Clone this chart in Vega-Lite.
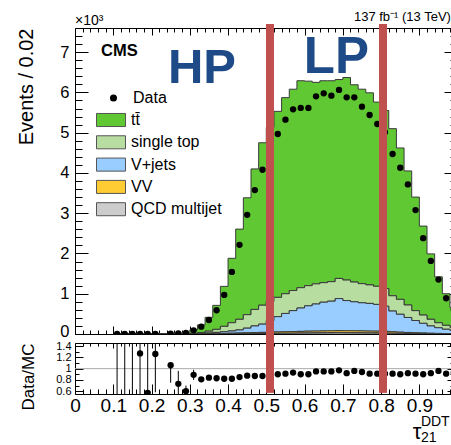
{
"$schema": "https://vega.github.io/schema/vega-lite/v6.json",
"padding": {"left": 15, "top": 10, "right": 0, "bottom": 0},
"background": "white",
"bounds": "flush",
"spacing": 9,
"config": {
  "font": "Liberation Sans",
  "view": {"stroke": null},
  "axis": {"grid": false, "domainColor": "black", "tickColor": "black", "labelColor": "black", "titleColor": "black", "labelFont": "Liberation Sans", "titleFont": "Liberation Sans", "titleFontWeight": "normal", "labelFlush": false, "labelOverlap": false, "labelBound": false, "tickWidth": 1, "domainWidth": 1},
  "legend": {"labelFont": "Liberation Sans", "labelColor": "black"}
},
"datasets": {
  "procs": [
    {"key": "tt", "label": "tt\u0304", "idx": 4},
    {"key": "st", "label": "single top", "idx": 3},
    {"key": "vj", "label": "V+jets", "idx": 2},
    {"key": "vv", "label": "VV", "idx": 1},
    {"key": "qcd", "label": "QCD multijet", "idx": 0}
  ],
  "bins": [
    {"xc":0.11,"tt":2,"st":0,"vj":0,"vv":0,"qcd":0,"data":4,"ratio":2.0,"rlo":0,"rhi":3},
    {"xc":0.13,"tt":3,"st":0,"vj":0,"vv":0,"qcd":0,"data":2,"ratio":0.3,"rlo":0,"rhi":3},
    {"xc":0.15,"tt":3,"st":0,"vj":0,"vv":0,"qcd":0,"data":3,"ratio":2.2,"rlo":0,"rhi":3},
    {"xc":0.17,"tt":3,"st":0,"vj":0,"vv":0,"qcd":0,"data":4,"ratio":1.27,"rlo":0.3,"rhi":2.5},
    {"xc":0.19,"tt":4,"st":0,"vj":0,"vv":0,"qcd":0,"data":2,"ratio":0.57,"rlo":0,"rhi":1.6},
    {"xc":0.21,"tt":4,"st":0,"vj":0,"vv":0,"qcd":0,"data":5,"ratio":1.26,"rlo":0.58,"rhi":2.0},
    {"xc":0.23,"tt":6,"st":0,"vj":0,"vv":0,"qcd":0},
    {"xc":0.25,"tt":8,"st":1,"vj":0,"vv":0,"qcd":0,"data":10,"ratio":1.06,"rlo":0.75,"rhi":1.1},
    {"xc":0.27,"tt":18,"st":2,"vj":1,"vv":0,"qcd":0,"data":15,"ratio":0.73,"rlo":0.55,"rhi":0.96},
    {"xc":0.29,"tt":35,"st":4,"vj":1,"vv":0,"qcd":0,"data":24,"ratio":0.60,"rlo":0.5,"rhi":0.70},
    {"xc":0.31,"tt":88,"st":7,"vj":5,"vv":2,"qcd":1,"data":92,"ratio":0.89,"rlo":0.8,"rhi":0.98},
    {"xc":0.33,"tt":190,"st":20,"vj":10,"vv":3,"qcd":2,"data":182,"ratio":0.81},
    {"xc":0.35,"tt":344,"st":45,"vj":17,"vv":5,"qcd":3,"data":348,"ratio":0.84},
    {"xc":0.37,"tt":596,"st":75,"vj":28,"vv":8,"qcd":4,"data":590,"ratio":0.83},
    {"xc":0.39,"tt":993,"st":135,"vj":40,"vv":10,"qcd":5,"data":970,"ratio":0.82},
    {"xc":0.41,"tt":1600,"st":205,"vj":55,"vv":14,"qcd":6,"data":1542,"ratio":0.82},
    {"xc":0.43,"tt":2240,"st":265,"vj":75,"vv":17,"qcd":8,"data":2214,"ratio":0.85},
    {"xc":0.45,"tt":2903,"st":335,"vj":115,"vv":20,"qcd":10,"data":2960,"ratio":0.875},
    {"xc":0.47,"tt":3490,"st":410,"vj":165,"vv":23,"qcd":12,"data":3575,"ratio":0.87},
    {"xc":0.49,"tt":4035,"st":470,"vj":205,"vv":26,"qcd":14,"data":4080,"ratio":0.87},
    {"xc":0.51,"tt":4320,"st":480,"vj":285,"vv":29,"qcd":16,"data":4550,"ratio":0.88},
    {"xc":0.53,"tt":4620,"st":480,"vj":380,"vv":32,"qcd":18,"data":4967,"ratio":0.90},
    {"xc":0.55,"tt":4870,"st":490,"vj":455,"vv":35,"qcd":20,"data":5323,"ratio":0.91},
    {"xc":0.57,"tt":5000,"st":500,"vj":520,"vv":38,"qcd":22,"data":5580,"ratio":0.93},
    {"xc":0.59,"tt":5140,"st":505,"vj":580,"vv":40,"qcd":25,"data":5614,"ratio":0.90},
    {"xc":0.61,"tt":5080,"st":500,"vj":630,"vv":42,"qcd":28,"data":5614,"ratio":0.90},
    {"xc":0.63,"tt":5005,"st":500,"vj":673,"vv":42,"qcd":30,"data":5903,"ratio":0.95},
    {"xc":0.65,"tt":5015,"st":485,"vj":715,"vv":43,"qcd":32,"data":5978,"ratio":0.95},
    {"xc":0.67,"tt":4990,"st":485,"vj":737,"vv":44,"qcd":34,"data":5920,"ratio":0.95},
    {"xc":0.69,"tt":4940,"st":500,"vj":795,"vv":45,"qcd":40,"data":6062,"ratio":0.97},
    {"xc":0.71,"tt":5030,"st":510,"vj":750,"vv":45,"qcd":35,"data":5878,"ratio":0.92},
    {"xc":0.73,"tt":4900,"st":490,"vj":722,"vv":45,"qcd":33,"data":5878,"ratio":0.96},
    {"xc":0.75,"tt":4830,"st":475,"vj":700,"vv":45,"qcd":30,"data":5647,"ratio":0.94},
    {"xc":0.77,"tt":4770,"st":460,"vj":688,"vv":44,"qcd":28,"data":5440,"ratio":0.91},
    {"xc":0.79,"tt":4575,"st":450,"vj":665,"vv":44,"qcd":26,"data":5216,"ratio":0.91},
    {"xc":0.81,"tt":4420,"st":440,"vj":625,"vv":41,"qcd":24,"data":5010,"ratio":0.91},
    {"xc":0.83,"tt":4150,"st":380,"vj":515,"vv":35,"qcd":20,"data":4470,"ratio":0.91},
    {"xc":0.85,"tt":3760,"st":370,"vj":445,"vv":29,"qcd":16,"data":4129,"ratio":0.90},
    {"xc":0.87,"tt":3330,"st":310,"vj":372,"vv":25,"qcd":13,"data":3714,"ratio":0.92},
    {"xc":0.89,"tt":2820,"st":245,"vj":305,"vv":20,"qcd":10,"data":3077,"ratio":0.91},
    {"xc":0.91,"tt":2210,"st":205,"vj":241,"vv":16,"qcd":8,"data":2381,"ratio":0.90},
    {"xc":0.93,"tt":1625,"st":165,"vj":182,"vv":12,"qcd":6,"data":1816,"ratio":0.92},
    {"xc":0.95,"tt":1140,"st":125,"vj":141,"vv":9,"qcd":5,"data":1351,"ratio":0.96},
    {"xc":0.97,"tt":785,"st":97,"vj":108,"vv":6,"qcd":4,"data":888,"ratio":0.91},
    {"xc":0.99,"tt":490,"st":77,"vj":80,"vv":5,"qcd":3,"data":610,"ratio":0.93}
  ]
},
"vconcat": [
  {
    "width": 377, "height": 306,
    "layer": [
      {
        "data": {"name": "bins"},
        "transform": [
          {"fold": ["tt","st","vj","vv","qcd"], "as": ["key","n"]},
          {"lookup": "key", "from": {"data": {"name": "procs"}, "key": "key", "fields": ["label","idx"]}}
        ],
        "mark": {"type": "area", "interpolate": "step", "stroke": "#3a3a3a", "strokeWidth": 1, "opacity": 1, "clip": true},
        "encoding": {
          "x": {"field": "xc", "type": "quantitative", "scale": {"domain": [0, 0.9853], "nice": false, "zero": false},
                "axis": {"orient": "bottom", "values": [0,0.02,0.04,0.06,0.08,0.1,0.12,0.14,0.16,0.18,0.2,0.22,0.24,0.26,0.28,0.3,0.32,0.34,0.36,0.38,0.4,0.42,0.44,0.46,0.48,0.5,0.52,0.54,0.56,0.58,0.6,0.62,0.64,0.66,0.68,0.7,0.72,0.74,0.76,0.78,0.8,0.82,0.84,0.86,0.88,0.9,0.92,0.94,0.96,0.98],
                         "labels": false, "title": null, "domain": true,
                         "tickSize": {"condition": {"test": "abs(datum.value*10 - round(datum.value*10)) < 0.001", "value": -8}, "value": -4},
                         "minExtent": 0, "maxExtent": 0}},
          "y": {"field": "n", "type": "quantitative", "stack": "zero", "scale": {"domain": [0, 7600], "nice": false},
                "axis": {"orient": "left", "values": [0,200,400,600,800,1000,1200,1400,1600,1800,2000,2200,2400,2600,2800,3000,3200,3400,3600,3800,4000,4200,4400,4600,4800,5000,5200,5400,5600,5800,6000,6200,6400,6600,6800,7000,7200,7400],
                         "labelExpr": "datum.value % 1000 === 0 ? format(datum.value/1000, 'd') : ''",
                         "labelFontSize": 16.5, "labelPadding": 19,
                         "labelOffset": {"condition": {"test": "datum.value === 0", "value": -3}, "value": 0},
                         "tickSize": {"condition": {"test": "datum.value % 1000 === 0", "value": -13}, "value": -7},
                         "title": "Events / 0.02", "titleFontSize": 20, "titleAnchor": "end", "titlePadding": 14,
                         "minExtent": 25, "maxExtent": 25}},
          "color": {"field": "label", "type": "nominal",
                    "scale": {"domain": ["tt\u0304", "single top", "V+jets", "VV", "QCD multijet"], "range": ["#5fc832", "#b8dda1", "#99ccff", "#ffcc33", "#cccccc"]},
                    "legend": {"orient": "none", "legendX": 21, "legendY": 81, "title": null, "symbolType": "M-1,-0.45H1V0.45H-1Z", "symbolSize": 841, "symbolStrokeColor": "#555555", "symbolStrokeWidth": 1, "symbolOpacity": 1, "labelFontSize": 16, "labelOffset": 5, "clipHeight": 22, "rowPadding": 0.3, "padding": 0, "labelLimit": 300}},
          "order": {"field": "idx", "type": "quantitative"}
        }
      },
      {
        "data": {"name": "bins"},
        "transform": [{"filter": "isValid(datum.data)"}],
        "mark": {"type": "point", "filled": true, "color": "black", "size": 40, "opacity": 1, "clip": true},
        "encoding": {
          "x": {"field": "xc", "type": "quantitative", "scale": {"domain": [0, 0.9853], "nice": false, "zero": false},
                "axis": {"orient": "top", "values": [0,0.02,0.04,0.06,0.08,0.1,0.12,0.14,0.16,0.18,0.2,0.22,0.24,0.26,0.28,0.3,0.32,0.34,0.36,0.38,0.4,0.42,0.44,0.46,0.48,0.5,0.52,0.54,0.56,0.58,0.6,0.62,0.64,0.66,0.68,0.7,0.72,0.74,0.76,0.78,0.8,0.82,0.84,0.86,0.88,0.9,0.92,0.94,0.96,0.98],
                         "labels": false, "title": null, "domain": true,
                         "tickSize": {"condition": {"test": "abs(datum.value*10 - round(datum.value*10)) < 0.001", "value": -7}, "value": -4},
                         "minExtent": 0, "maxExtent": 0}},
          "y": {"field": "data", "type": "quantitative", "scale": {"domain": [0, 7600], "nice": false},
                "axis": {"orient": "right", "values": [0,200,400,600,800,1000,1200,1400,1600,1800,2000,2200,2400,2600,2800,3000,3200,3400,3600,3800,4000,4200,4400,4600,4800,5000,5200,5400,5600,5800,6000,6200,6400,6600,6800,7000,7200,7400],
                         "labels": false, "title": null, "domain": false,
                         "tickSize": {"condition": {"test": "datum.value % 1000 === 0", "value": -8}, "value": -2},
                         "minExtent": 0, "maxExtent": 0}},
          "shape": {"datum": "Data", "type": "nominal", "scale": {"range": ["circle"]},
                    "legend": {"orient": "none", "legendX": 30.5, "legendY": 59, "title": null, "symbolSize": 50, "symbolFillColor": "black", "symbolStrokeColor": "black", "symbolStrokeWidth": 0, "labelFontSize": 16, "labelOffset": 11.5, "clipHeight": 22, "padding": 0}}
        }
      },
      {
        "data": {"values": [{"cut": 0.5096}, {"cut": 0.805}]},
        "mark": {"type": "rule", "color": "#c0504d", "strokeWidth": 8},
        "encoding": {
          "x": {"field": "cut", "type": "quantitative", "axis": null},
          "y": {"datum": 7699, "type": "quantitative", "axis": null},
          "y2": {"datum": -224}
        }
      },
      {
        "data": {"values": [{}]},
        "mark": {"type": "text", "text": "HP", "fontWeight": "bold", "fontSize": 49, "color": "#1e4b87", "align": "left", "baseline": "alphabetic"},
        "encoding": {"x": {"datum": 0.243, "type": "quantitative", "axis": null}, "y": {"datum": 6234, "type": "quantitative", "axis": null}}
      },
      {
        "data": {"values": [{}]},
        "mark": {"type": "text", "text": "LP", "fontWeight": "bold", "fontSize": 51, "color": "#1e4b87", "align": "left", "baseline": "alphabetic"},
        "encoding": {"x": {"datum": 0.598, "type": "quantitative", "axis": null}, "y": {"datum": 6482, "type": "quantitative", "axis": null}}
      },
      {
        "data": {"values": [{}]},
        "mark": {"type": "text", "text": "CMS", "fontWeight": "bold", "fontSize": 16.5, "color": "black", "align": "left", "baseline": "alphabetic"},
        "encoding": {"x": {"datum": 0.068, "type": "quantitative", "axis": null}, "y": {"datum": 6905, "type": "quantitative", "axis": null}}
      },
      {
        "data": {"values": [{}]},
        "mark": {"type": "text", "text": "\u00d710\u00b3", "fontSize": 14, "color": "black", "align": "left", "baseline": "alphabetic"},
        "encoding": {"x": {"datum": 0.0, "type": "quantitative", "axis": null}, "y": {"datum": 7675, "type": "quantitative", "axis": null}}
      },
      {
        "data": {"values": [{}]},
        "mark": {"type": "text", "text": "137 fb\u207b\u00b9 (13 TeV)", "fontSize": 13, "color": "black", "align": "left", "baseline": "alphabetic"},
        "encoding": {"x": {"datum": 0.729, "type": "quantitative", "axis": null}, "y": {"datum": 7774, "type": "quantitative", "axis": null}}
      }
    ],
    "resolve": {"axis": {"x": "independent", "y": "independent"}}
  },
  {
    "width": 377, "height": 51,
    "layer": [
      {
        "data": {"values": [{}]},
        "mark": {"type": "rule", "color": "#aaaaaa", "strokeWidth": 1},
        "encoding": {"y": {"datum": 1, "type": "quantitative", "axis": null}}
      },
      {
        "data": {"name": "bins"},
        "transform": [{"filter": "isValid(datum.rlo)"}],
        "mark": {"type": "rule", "color": "black", "strokeWidth": 1, "clip": true},
        "encoding": {
          "x": {"field": "xc", "type": "quantitative", "scale": {"domain": [0, 0.9853], "nice": false, "zero": false},
                "axis": {"orient": "top", "values": [0,0.02,0.04,0.06,0.08,0.1,0.12,0.14,0.16,0.18,0.2,0.22,0.24,0.26,0.28,0.3,0.32,0.34,0.36,0.38,0.4,0.42,0.44,0.46,0.48,0.5,0.52,0.54,0.56,0.58,0.6,0.62,0.64,0.66,0.68,0.7,0.72,0.74,0.76,0.78,0.8,0.82,0.84,0.86,0.88,0.9,0.92,0.94,0.96,0.98],
                         "labels": false, "title": null, "domain": true,
                         "tickSize": {"condition": {"test": "abs(datum.value*10 - round(datum.value*10)) < 0.001", "value": -5}, "value": -3},
                         "minExtent": 0, "maxExtent": 0}},
          "y": {"field": "rlo", "type": "quantitative", "scale": {"domain": [0.55, 1.455], "nice": false, "zero": false},
                "axis": {"orient": "right", "values": [0.6,0.7,0.8,0.9,1,1.1,1.2,1.3,1.4], "labels": false, "title": null, "domain": false,
                         "tickSize": {"condition": {"test": "abs(datum.value*5 - round(datum.value*5)) < 0.001", "value": -5}, "value": -2},
                         "minExtent": 0, "maxExtent": 0}},
          "y2": {"field": "rhi"}
        }
      },
      {
        "data": {"name": "bins"},
        "transform": [{"filter": "isValid(datum.ratio)"}],
        "mark": {"type": "point", "filled": true, "color": "black", "size": 40, "opacity": 1, "clip": true},
        "encoding": {
          "x": {"field": "xc", "type": "quantitative", "scale": {"domain": [0, 0.9853], "nice": false, "zero": false},
                "axis": {"orient": "bottom", "values": [0,0.02,0.04,0.06,0.08,0.1,0.12,0.14,0.16,0.18,0.2,0.22,0.24,0.26,0.28,0.3,0.32,0.34,0.36,0.38,0.4,0.42,0.44,0.46,0.48,0.5,0.52,0.54,0.56,0.58,0.6,0.62,0.64,0.66,0.68,0.7,0.72,0.74,0.76,0.78,0.8,0.82,0.84,0.86,0.88,0.9,0.92,0.94,0.96,0.98],
                         "labelExpr": "abs(datum.value*10 - round(datum.value*10)) < 0.001 ? format(datum.value, '~g') : ''",
                         "labelFontSize": 19, "labelPadding": 12, "title": null, "domain": true,
                         "tickSize": {"condition": {"test": "abs(datum.value*10 - round(datum.value*10)) < 0.001", "value": -10}, "value": -5}}},
          "y": {"field": "ratio", "type": "quantitative", "scale": {"domain": [0.55, 1.455], "nice": false, "zero": false},
                "axis": {"orient": "left", "values": [0.6,0.7,0.8,0.9,1,1.1,1.2,1.3,1.4],
                         "labelExpr": "abs(datum.value*5 - round(datum.value*5)) < 0.001 ? format(datum.value, '~g') : ''",
                         "labelFontSize": 11, "labelPadding": 12,
                         "tickSize": {"condition": {"test": "abs(datum.value*5 - round(datum.value*5)) < 0.001", "value": -8}, "value": -4},
                         "title": "Data/MC", "titleFontSize": 17, "titleAnchor": "end", "titlePadding": 13,
                         "minExtent": 25, "maxExtent": 25}}
        }
      },
      {
        "data": {"values": [{"cut": 0.5096}, {"cut": 0.805}]},
        "mark": {"type": "rule", "color": "#c0504d", "strokeWidth": 8},
        "encoding": {
          "x": {"field": "cut", "type": "quantitative", "axis": null},
          "y": {"datum": 1.455, "type": "quantitative", "axis": null},
          "y2": {"datum": 0.57}
        }
      },
      {
        "data": {"values": [{}]},
        "mark": {"type": "text", "text": "\u03c4", "fontSize": 22, "color": "black", "align": "left", "baseline": "alphabetic"},
        "encoding": {"x": {"datum": 0.883, "type": "quantitative", "axis": null}, "y": {"datum": -0.249, "type": "quantitative", "axis": null}}
      },
      {
        "data": {"values": [{}]},
        "mark": {"type": "text", "text": "DDT", "fontSize": 14, "color": "black", "align": "left", "baseline": "alphabetic"},
        "encoding": {"x": {"datum": 0.904, "type": "quantitative", "axis": null}, "y": {"datum": -0.018, "type": "quantitative", "axis": null}}
      },
      {
        "data": {"values": [{}]},
        "mark": {"type": "text", "text": "21", "fontSize": 14, "color": "black", "align": "left", "baseline": "alphabetic"},
        "encoding": {"x": {"datum": 0.904, "type": "quantitative", "axis": null}, "y": {"datum": -0.302, "type": "quantitative", "axis": null}}
      }
    ],
    "resolve": {"axis": {"x": "independent", "y": "independent"}}
  }
]
}
